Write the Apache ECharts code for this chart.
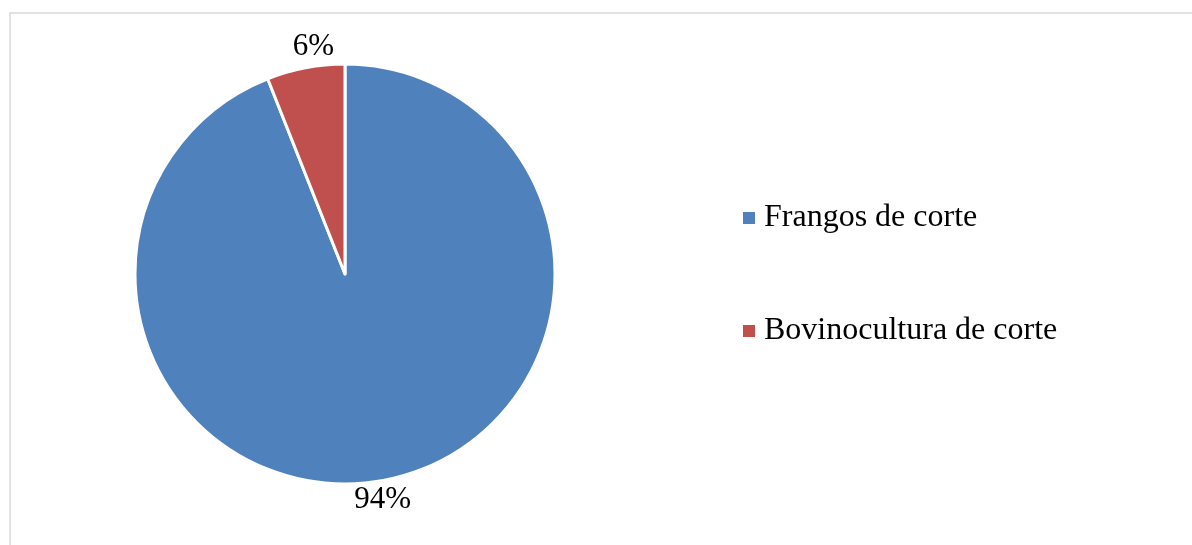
<!DOCTYPE html>
<html>
<head>
<meta charset="utf-8">
<style>
  html, body { margin: 0; padding: 0; background: #ffffff; }
  #chart { width: 1192px; height: 545px; }
</style>
<script src="https://cdn.jsdelivr.net/npm/echarts@6/dist/echarts.min.js"></script>
</head>
<body>
<div id="chart"></div>
<script>
// Share of production by activity (percent)
const categories = ['Frangos de corte', 'Bovinocultura de corte'];
const shares = [94, 6];
const colors = ['#4f81bd', '#c0504d'];

const chart = echarts.init(document.getElementById('chart'), null, { renderer: 'canvas' });

const serif = '"Liberation Serif", "Times New Roman", serif';

// Small nudges for the outside percentage labels
const labelNudge = [{ dx: -6, dy: -3 }, { dx: 12, dy: 2 }];

chart.setOption({
  animation: false,
  backgroundColor: '#ffffff',
  graphic: [{
    type: 'rect',
    shape: { x: 10, y: 13, width: 1300, height: 700 },
    style: { fill: 'none', stroke: '#d9d9d9', lineWidth: 1.5 },
    silent: true
  }],
  legend: {
    orient: 'vertical',
    left: 741,
    top: 200,
    padding: 0,
    icon: 'rect',
    itemWidth: 14,
    itemHeight: 14,
    itemGap: 77,
    textStyle: {
      fontFamily: serif,
      fontSize: 32,
      color: '#000000',
      lineHeight: 36,
      padding: [0, 0, 0, 3]
    },
    data: categories
  },
  series: [{
    type: 'pie',
    center: [345, 274],
    radius: 210,
    startAngle: 90,
    clockwise: true,
    itemStyle: { borderColor: '#ffffff', borderWidth: 3 },
    label: {
      show: true,
      position: 'outside',
      formatter: '{c}%',
      fontFamily: serif,
      fontSize: 31,
      color: '#000000',
      distanceToLabelLine: 0
    },
    labelLine: { show: false, length: 23, length2: 0 },
    labelLayout: function (params) {
      const n = labelNudge[params.dataIndex] || { dx: 0, dy: 0 };
      return { align: 'center', verticalAlign: 'middle', dx: n.dx, dy: n.dy };
    },
    emphasis: { disabled: true },
    data: categories.map(function (name, i) {
      return { name: name, value: shares[i], itemStyle: { color: colors[i] } };
    })
  }]
});
</script>
</body>
</html>
